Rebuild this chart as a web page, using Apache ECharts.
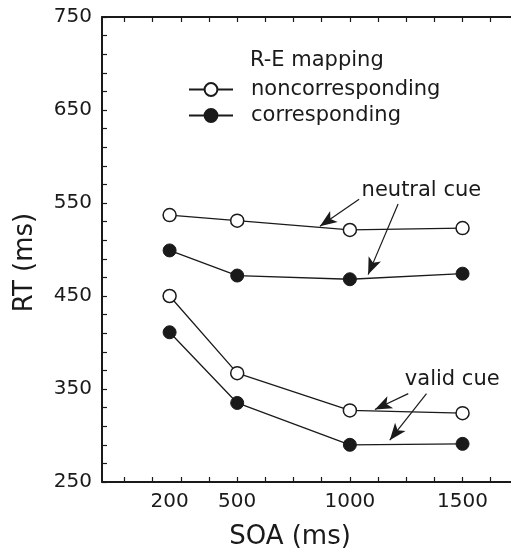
<!DOCTYPE html>
<html>
<head>
<meta charset="utf-8">
<script src="https://cdn.jsdelivr.net/npm/echarts@6/dist/echarts.min.js"></script>
<style>
html,body{margin:0;padding:0;background:#fff;}
#chart{width:511px;height:556px;}
</style>
</head>
<body>
<div id="chart"></div>
<script>
// SOA values (ms)
const soa = [200, 500, 1000, 1500];
// RT values (ms)
const neutralNoncorr = [537, 531, 521, 523];
const neutralCorr = [499, 472, 468, 474];
const validNoncorr = [450, 367, 327, 324];
const validCorr = [411, 335, 290, 291];
// Axis tick labels and tick marks
const xTickLabels = [200, 500, 1000, 1500];
const xTickMarks = [0, 125, 250, 375, 500, 625, 750, 875, 1000, 1125, 1250, 1375, 1500, 1625];
const yTickLabels = [250, 350, 450, 550, 650, 750];
const yTickMarks = [250, 270, 290, 310, 330, 350, 370, 390, 410, 430, 450, 470, 490, 510, 530, 550, 570, 590, 610, 630, 650, 670, 690, 710, 730, 750];
// Annotations
const annotationTexts = ['neutral cue', 'valid cue'];
const annotationAnchors = [[1052, 563], [1244, 360]];
const arrowTails = [[1041, 554], [1214, 549], [1259, 345], [1340, 345]];
const arrowTips = [[867, 525], [1081, 473], [1111, 328], [1177, 295]];

const FONT = 'DejaVu Sans';
const INK = '#1a1a1a';

function pairs(vals) { return soa.map((x, i) => [x, vals[i]]); }

const openStyle = { color: '#fff', borderColor: INK, borderWidth: 1.5 };
const fillStyle = { color: INK, borderColor: INK, borderWidth: 1 };
const lineStyle = { color: INK, width: 1.3 };

function mkSeries(name, vals, style) {
  return {
    type: 'line', name: name, data: pairs(vals),
    symbol: 'circle', symbolSize: 13,
    itemStyle: style, lineStyle: lineStyle,
    animation: false, z: 3
  };
}

const series = [
  mkSeries('noncorresponding', neutralNoncorr, openStyle),
  mkSeries('corresponding', neutralCorr, fillStyle),
  mkSeries('noncorresponding', validNoncorr, openStyle),
  mkSeries('corresponding', validCorr, fillStyle)
];

series[0].markLine = {
  silent: true, animation: false,
  symbol: ['none', 'arrow'], symbolSize: [10, 17],
  lineStyle: { color: INK, width: 1.2, type: 'solid' },
  label: { show: false },
  data: arrowTails.map((t, i) => [{ coord: t }, { coord: arrowTips[i] }])
};
series[0].markPoint = {
  silent: true, animation: false,
  symbol: 'circle', symbolSize: 0,
  label: { show: true, position: 'right', distance: 0, color: INK, fontFamily: FONT, fontSize: 21,
           formatter: p => p.name },
  data: annotationTexts.map((t, i) => ({ name: t, coord: annotationAnchors[i] }))
};

const axisLineStyle = { color: INK, width: 1.8 };
const plain = v => String(v);

const option = {
  backgroundColor: '#fff',
  animation: false,
  textStyle: { fontFamily: FONT },
  grid: { left: 102, top: 17, right: 0, bottom: 74, containLabel: false },
  title: {
    text: 'R-E mapping', left: 250, top: 50, padding: 0,
    textStyle: { fontFamily: FONT, fontSize: 21, fontWeight: 'normal', color: INK }
  },
  legend: {
    data: ['noncorresponding', 'corresponding'],
    orient: 'vertical', left: 188, top: 79, padding: 0,
    itemWidth: 44, itemHeight: 16, itemGap: 5,
    textStyle: { fontFamily: FONT, fontSize: 21, color: INK, lineHeight: 16, padding: [0, 0, 0, 13] },
    selectedMode: false
  },
  xAxis: [
    {
      type: 'value', min: -100, max: 1715, position: 'bottom',
      name: 'SOA (ms)', nameLocation: 'middle', nameGap: 42,
      nameTextStyle: { fontFamily: FONT, fontSize: 26, color: INK, padding: [0, 33, 0, 0] },
      axisLine: { show: true, onZero: false, lineStyle: axisLineStyle },
      axisTick: { show: true, inside: true, length: 5, customValues: xTickMarks, lineStyle: { color: INK, width: 1.2 } },
      axisLabel: { show: true, customValues: xTickLabels, formatter: plain, margin: 10, fontFamily: FONT, fontSize: 20, color: INK },
      splitLine: { show: false }
    },
    {
      type: 'value', min: -100, max: 1715, position: 'top',
      axisLine: { show: true, onZero: false, lineStyle: axisLineStyle },
      axisTick: { show: true, inside: true, length: 5, customValues: xTickMarks, lineStyle: { color: INK, width: 1.2 } },
      axisLabel: { show: false },
      splitLine: { show: false }
    }
  ],
  yAxis: {
    type: 'value', min: 250, max: 750,
    name: 'RT (ms)', nameLocation: 'middle', nameGap: 64,
    nameTextStyle: { fontFamily: FONT, fontSize: 26, color: INK, padding: [0, 26, 0, 0] },
    axisLine: { show: true, onZero: false, lineStyle: { color: INK, width: 2 } },
    axisTick: { show: true, inside: true, length: 5, customValues: yTickMarks, lineStyle: { color: INK, width: 1.2 } },
    axisLabel: { show: true, customValues: yTickLabels, formatter: plain, margin: 10, fontFamily: FONT, fontSize: 20, color: INK },
    splitLine: { show: false }
  },
  series: series
};

const chart = echarts.init(document.getElementById('chart'), null, { renderer: 'canvas' });
chart.setOption(option);
</script>
</body>
</html>
